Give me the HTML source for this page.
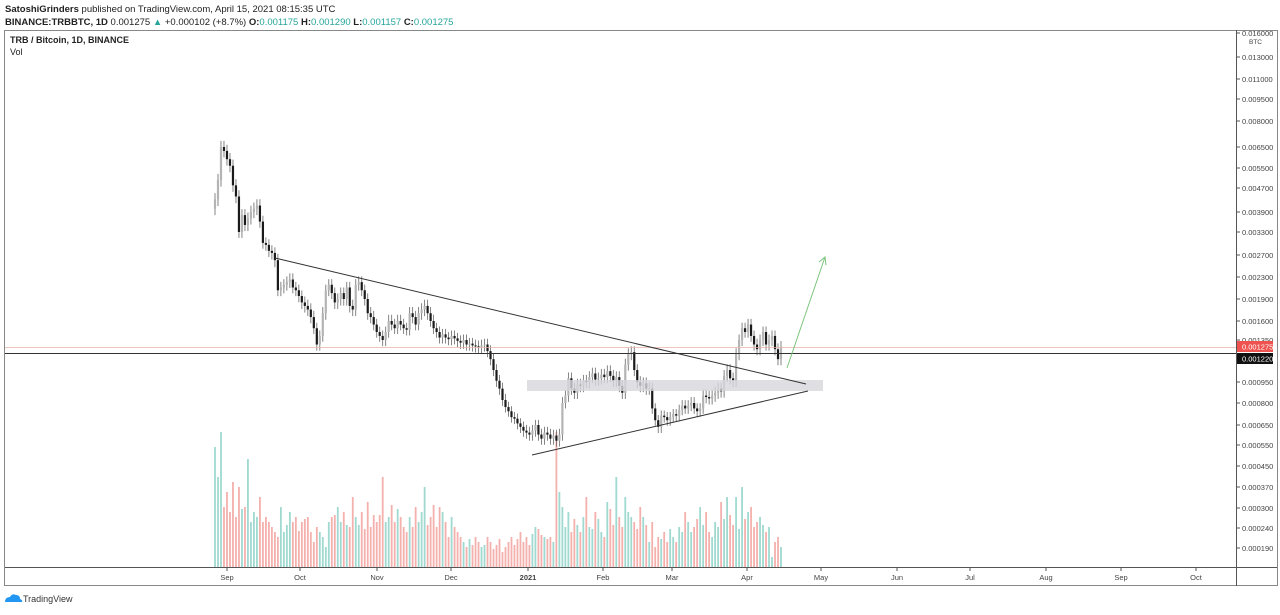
<!DOCTYPE html>
<html><head><meta charset="utf-8"><style>
body{margin:0;background:#fff;width:1280px;height:610px;overflow:hidden;font-family:"Liberation Sans",sans-serif}
svg text{font-family:"Liberation Sans",sans-serif}
</style></head><body>
<svg id="c" width="1280" height="610" xmlns="http://www.w3.org/2000/svg">
<text x="5" y="12" font-size="9.5" fill="#222"><tspan font-weight="bold">SatoshiGrinders</tspan> published on TradingView.com, April 15, 2021 08:15:35 UTC</text>
<text x="5" y="25" font-size="9.5" fill="#222"><tspan font-weight="bold">BINANCE:TRBBTC, 1D</tspan> 0.001275 <tspan fill="#26a69a">▲</tspan> +0.000102 (+8.7%) <tspan font-weight="bold">O:</tspan><tspan fill="#26a69a">0.001175</tspan> <tspan font-weight="bold">H:</tspan><tspan fill="#26a69a">0.001290</tspan> <tspan font-weight="bold">L:</tspan><tspan fill="#26a69a">0.001157</tspan> <tspan font-weight="bold">C:</tspan><tspan fill="#26a69a">0.001275</tspan></text>
<rect x="4.5" y="30.5" width="1273" height="555" fill="none" stroke="#888"/>
<line x1="1236.5" y1="30" x2="1236.5" y2="586" stroke="#555"/>
<line x1="5" y1="567.5" x2="1277" y2="567.5" stroke="#555"/>
<text x="10" y="43" font-size="9" font-weight="bold" fill="#222">TRB / Bitcoin, 1D, BINANCE</text>
<text x="10" y="55" font-size="9" fill="#222">Vol</text>
<g id="vol"></g><g id="cand"></g><g id="ann"></g><g id="yax"></g><g id="xax"></g>
<g><path d="M5 602 q0-5 5-5 q2-4 6-2 q4 0 4 4 q3 1 2 3 z" fill="#2196f3"/><text x="23" y="602" font-size="9" fill="#333">TradingView</text></g>
</svg>
<script>
// closes (×1e-6 BTC), one per day
const closes=[4300,5000,6500,6300,5900,5600,4800,4400,3300,3800,3500,3700,3900,4000,4100,3600,3000,2950,2800,2750,2600,2050,2100,2150,2200,2250,2100,2050,1950,1850,1800,1750,1650,1500,1300,1400,1700,2050,2150,2000,1850,1900,2000,1900,2100,1800,1750,2150,2200,2050,1900,1700,1650,1550,1450,1400,1350,1450,1600,1550,1500,1600,1550,1500,1480,1700,1650,1550,1700,1750,1800,1700,1600,1500,1450,1380,1420,1380,1360,1400,1370,1340,1320,1350,1300,1310,1290,1280,1270,1290,1300,1230,1150,1050,960,900,820,770,740,700,690,660,640,620,610,600,620,650,600,580,610,600,580,595,570,600,800,850,980,900,870,930,920,960,950,990,1020,970,980,1010,990,1040,1000,960,990,920,870,1100,1200,1220,1050,950,920,940,900,900,760,680,640,710,700,680,700,720,710,750,780,760,780,800,760,740,760,850,840,830,850,870,900,880,1000,1050,980,960,1200,1350,1500,1450,1550,1400,1300,1250,1350,1450,1300,1350,1400,1250,1150,1275];
const firstOpen=4000;
const volumes=[120,90,135,60,75,55,85,50,80,58,60,108,45,55,50,70,45,50,45,40,35,30,60,35,42,55,45,50,36,45,48,50,35,25,40,35,30,20,45,50,52,60,45,55,42,40,70,50,42,55,38,65,40,52,45,52,90,45,50,62,45,58,50,40,35,50,40,60,45,55,80,42,50,62,40,60,55,45,30,50,40,35,30,25,20,28,22,30,25,20,22,30,25,18,22,28,15,20,25,30,22,28,35,25,30,22,33,40,38,32,30,28,30,25,135,75,60,40,55,35,48,42,35,50,70,40,38,55,48,35,30,65,58,42,90,50,40,70,55,50,45,38,60,50,42,25,45,20,30,28,35,25,38,30,25,40,35,55,45,35,40,48,60,42,55,35,30,45,40,65,48,70,52,42,70,38,80,48,55,60,40,45,50,42,35,40,10,25,30,20];
const tickValues=[16000,13000,11000,9500,8000,6500,5500,4700,3900,3300,2700,2300,1900,1600,1350,950,800,650,550,450,370,300,240,190];
const tickY=[33,57,79,99,121,147,168,188,212,232,255,277,299,321,340,382,403,425,445,466,487,508,528,548];
const monthLabels=["Sep","Oct","Nov","Dec","2021","Feb","Mar","Apr","May","Jun","Jul","Aug","Sep","Oct"];
const monthX=[227,300,377,451,528,603,672,747,821,897,970,1046,1121,1196];
const NS="http://www.w3.org/2000/svg";
function el(t,a,p){const e=document.createElementNS(NS,t);for(const k in a)e.setAttribute(k,a[k]);p.appendChild(e);return e;}
function yS(v){const l=Math.log(v);for(let i=0;i<tickValues.length-1;i++){const a=Math.log(tickValues[i]),b=Math.log(tickValues[i+1]);if(l<=a&&l>=b||i==tickValues.length-2||(i==0&&l>a)){return tickY[i]+(l-a)/(b-a)*(tickY[i+1]-tickY[i]);}}}
const step=566/(closes.length-1);
function xS(i){return 215+i*step;}
const vg=document.getElementById('vol'),cg=document.getElementById('cand');
for(let i=0;i<closes.length;i++){
 const o=i?closes[i-1]:firstOpen,c=closes[i],up=c>=o,x=xS(i);
 if(i<volumes.length){const h=volumes[i];
  const r=el('rect',{x:x-0.9,y:567-h,width:1.8,height:h,fill:up?'#9fd9d0':'#f4b0ac'},vg);
  
  }
 const hi=Math.max(o,c)*1.05,lo=Math.min(o,c)*0.95;
 const w=el('line',{x1:x,x2:x,y1:yS(hi),y2:yS(lo),stroke:'#666','stroke-width':0.8},cg);
 
 
 const yt=yS(Math.max(o,c)),yb=yS(Math.min(o,c));
 const b=el('rect',{x:x-1.1,y:yt,width:2.2,height:Math.max(1,yb-yt),fill:up?'#b4b4b4':'#1a1a1a'},cg);
 
 
}
const ag=document.getElementById('ann');
function ln(a,n,p){const e=el('line',a,p);return e;}
const zr=el('rect',{x:527,y:380,width:296,height:11,fill:'#d6d6dc',opacity:0.8},ag);


ln({x1:5,x2:1236,y1:347.5,y2:347.5,stroke:'#e8b0a8','stroke-width':0.8},'last-price-line',ag);
ln({x1:5,x2:1236,y1:353.5,y2:353.5,stroke:'#333','stroke-width':1},'horizontal-level',ag);
ln({x1:275,y1:258,x2:806,y2:384,stroke:'#333','stroke-width':1},'descending-trendline',ag);
ln({x1:532,y1:455,x2:808,y2:391,stroke:'#333','stroke-width':1},'ascending-trendline',ag);
ln({x1:787,y1:368,x2:825,y2:257,stroke:'#7cc47c','stroke-width':1},'projection-arrow',ag);
const ah=el('path',{d:'M819 262 L825 257 L826 265',fill:'none',stroke:'#7cc47c'},ag);


const yg=document.getElementById('yax');
for(let i=0;i<tickValues.length;i++){const y=tickY[i];
 el('line',{x1:1236,x2:1240,y1:y,y2:y,stroke:'#555'},yg);
 const t=el('text',{x:1242,y:y+3,'font-size':7.5,fill:'#444'},yg);t.textContent=(tickValues[i]/1e6).toFixed(6);
 
 }
const bt=el('text',{x:1249,y:44,'font-size':6.5,fill:'#444'},yg);bt.textContent='BTC';


el('rect',{x:1237,y:341,width:36,height:11,fill:'#ef5350'},yg);
const t1=el('text',{x:1242,y:349.5,'font-size':7.5,fill:'#fff'},yg);t1.textContent='0.001275';


el('rect',{x:1237,y:353,width:36,height:11,fill:'#111'},yg);
const t2=el('text',{x:1242,y:361.5,'font-size':7.5,fill:'#fff'},yg);t2.textContent='0.001220';


const xg=document.getElementById('xax');
for(let i=0;i<monthLabels.length;i++){const x=monthX[i];
 el('line',{x1:x,x2:x,y1:567,y2:571,stroke:'#555'},xg);
 const t=el('text',{x:x,y:580,'font-size':7.5,fill:'#444','text-anchor':'middle','font-weight':monthLabels[i]=='2021'?'bold':'normal'},xg);t.textContent=monthLabels[i];
 
 }
</script>
</body></html>
